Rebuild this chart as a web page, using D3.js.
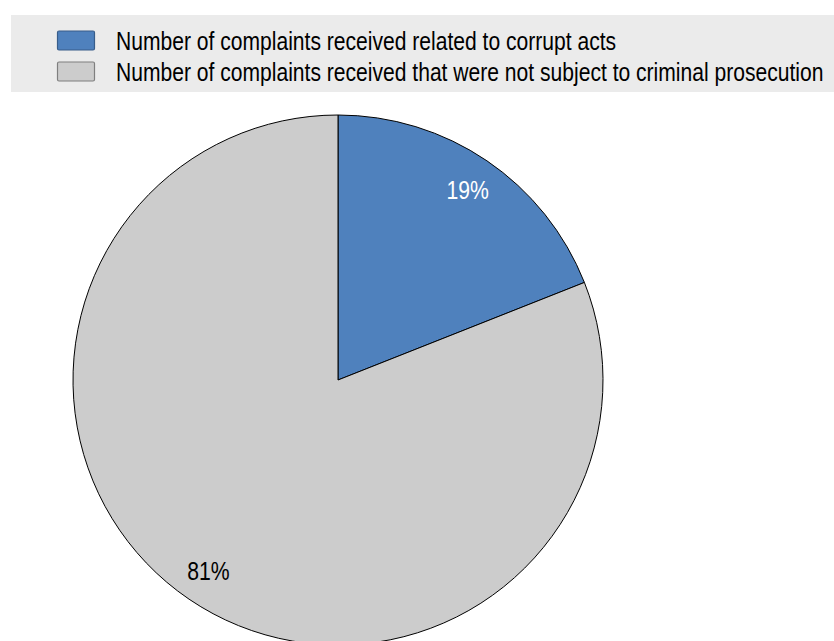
<!DOCTYPE html>
<html>
<head>
<meta charset="utf-8">
<script src="https://cdn.jsdelivr.net/npm/d3@7"></script>
<style>
  html, body { margin: 0; padding: 0; background: #ffffff; }
  svg { display: block; }
  text { font-family: "Liberation Sans", Arial, sans-serif; }
</style>
</head>
<body>
<svg id="chart" width="834" height="641"></svg>
<script>
// Share of complaints, in percent
const categories = [
  "Number of complaints received related to corrupt acts",
  "Number of complaints received that were not subject to criminal prosecution"
];
const shares = [19, 81];
const colors = ["#4f81bd", "#cccccc"];
const swatchStrokes = ["#385d8a", "#7f7f7f"];
const labelColors = ["#ffffff", "#000000"];

// Narrow face look: regular sans, condensed horizontally
const condense = 0.82;

const svg = d3.select("#chart");
const W = 834, H = 641;

// Legend band
const legend = svg.append("g");
legend.append("rect")
  .attr("x", 11).attr("y", 15)
  .attr("width", W - 11).attr("height", 77)
  .attr("fill", "#ebebeb");

const rowY = d3.scaleBand().domain(d3.range(categories.length)).range([25, 87]);
const items = legend.selectAll("g.item")
  .data(categories)
  .join("g")
  .attr("class", "item")
  .attr("transform", (d, i) => `translate(0,${rowY(i) + rowY.bandwidth() / 2})`);

items.append("rect")
  .attr("x", 57.5).attr("y", -9.5)
  .attr("width", 37).attr("height", 19)
  .attr("rx", 1.5)
  .attr("fill", (d, i) => colors[i])
  .attr("stroke", (d, i) => swatchStrokes[i])
  .attr("stroke-width", 1.2);

items.append("text")
  .attr("transform", `translate(116,9.5) scale(${condense},1)`)
  .attr("font-size", 25.7)
  .attr("fill", "#000")
  .text(d => d);

// Pie
const cx = 338, cy = 380, R = 265;
const pie = d3.pie().sort(null).value(d => d)
  .startAngle(0).endAngle(2 * Math.PI);
const arcs = pie(shares);
const arc = d3.arc().innerRadius(0).outerRadius(R);
const labelArc = d3.arc().innerRadius(R * 0.87).outerRadius(R * 0.87);

const g = svg.append("g").attr("transform", `translate(${cx},${cy})`);
g.selectAll("path")
  .data(arcs)
  .join("path")
  .attr("d", arc)
  .attr("fill", (d, i) => colors[i])
  .attr("stroke", "#000")
  .attr("stroke-width", 1)
  .attr("stroke-linejoin", "round");

g.selectAll("text.lbl")
  .data(arcs)
  .join("text")
  .attr("class", "lbl")
  .attr("transform", d => `translate(${labelArc.centroid(d)}) scale(0.8,1)`)
  .attr("text-anchor", "middle")
  .attr("dy", "0.36em")
  .attr("font-size", 26.5)
  .attr("fill", (d, i) => labelColors[i])
  .text(d => d.data + "%");
</script>
</body>
</html>
